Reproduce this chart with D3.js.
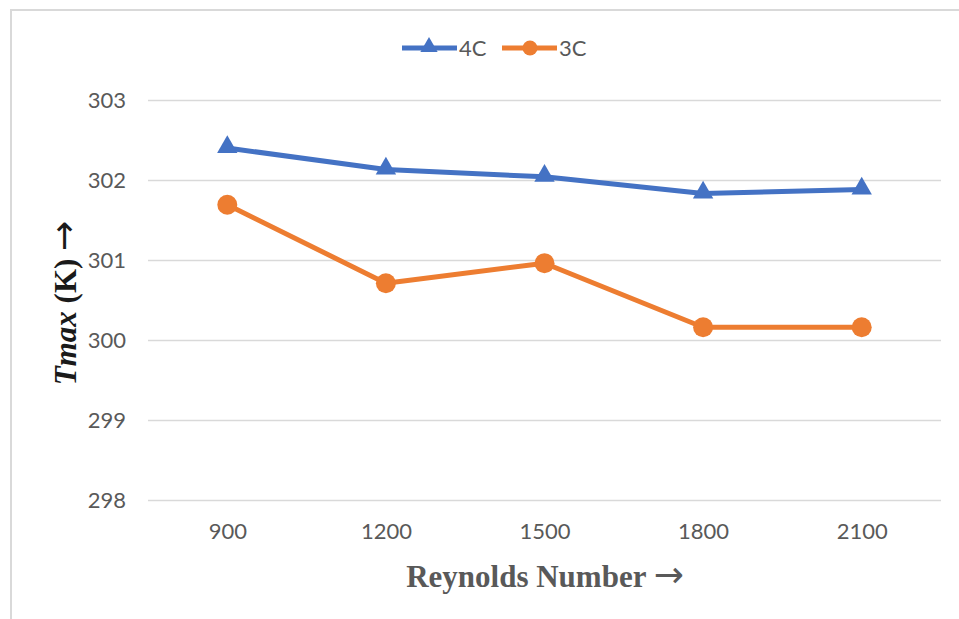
<!DOCTYPE html>
<html>
<head>
<meta charset="utf-8">
<script src="https://cdn.jsdelivr.net/npm/d3@7"></script>
<style>
  html, body { margin: 0; padding: 0; background: #fff; }
  svg { display: block; }
</style>
</head>
<body>
<svg id="chart" width="959" height="619"></svg>
<script>
// Reynolds number categories and maximum temperature (K) per configuration
const reynolds = ["900", "1200", "1500", "1800", "2100"];
const tmax4C = [302.40, 302.13, 302.04, 301.83, 301.88];
const tmax3C = [301.69, 300.71, 300.96, 300.16, 300.16];
const yTicks = [298, 299, 300, 301, 302, 303];
const seriesNames = ["4C", "3C"];

const W = 959, H = 619;
const plot = { left: 148, right: 941, top: 100, bottom: 500 };
const blue = "#4472C4", orange = "#ED7D31";
const tickFont = "Lato, 'Open Sans', sans-serif";
const serif = "'Liberation Serif', 'Times New Roman', serif";
const arrowFont = "'DejaVu Sans', sans-serif";

const svg = d3.select("#chart");

// chart area frame (top and left edges)
svg.append("path")
  .attr("d", `M11,${H} L11,10 L${W},10`)
  .attr("fill", "none")
  .attr("stroke", "#d9d9d9")
  .attr("stroke-width", 2);

const x = d3.scalePoint().domain(reynolds).range([plot.left, plot.right]).padding(0.5);
const y = d3.scaleLinear().domain([298, 303]).range([plot.bottom, plot.top]);

// y axis with horizontal gridlines
const yAxis = svg.append("g")
  .attr("transform", `translate(${plot.left},0)`)
  .call(d3.axisLeft(y).tickValues(yTicks).tickFormat(d3.format("d"))
    .tickSizeInner(-(plot.right - plot.left)).tickSizeOuter(0).tickPadding(22));
yAxis.select(".domain").remove();
yAxis.selectAll(".tick line").attr("stroke", "#d9d9d9").attr("stroke-width", 1.6);
yAxis.selectAll(".tick text")
  .attr("fill", "#595959").style("font-family", tickFont).style("font-size", "22px");

// x axis labels
const xAxis = svg.append("g")
  .attr("transform", `translate(0,${plot.bottom})`)
  .call(d3.axisBottom(x).tickSize(0).tickPadding(23));
xAxis.select(".domain").remove();
xAxis.selectAll(".tick text")
  .attr("fill", "#595959").style("font-family", tickFont).style("font-size", "22px");

// axis titles
const xTitle = svg.append("text")
  .attr("x", 545).attr("y", 587)
  .attr("text-anchor", "middle")
  .attr("fill", "#595959")
  .style("font-family", serif).style("font-weight", "bold").style("font-size", "31px");
xTitle.append("tspan").text("Reynolds Number ");
xTitle.append("tspan").style("font-family", arrowFont).style("font-weight", "normal")
  .style("font-size", "36px").text("→");

const yTitle = svg.append("text")
  .attr("transform", "translate(76,303) rotate(-90)")
  .attr("text-anchor", "middle")
  .attr("fill", "#1a1a1a")
  .style("font-family", serif).style("font-weight", "bold").style("font-size", "31px");
yTitle.append("tspan").style("font-style", "italic").text("Tmax");
yTitle.append("tspan").text(" (K) ");
yTitle.append("tspan").style("font-family", arrowFont).style("font-weight", "normal")
  .style("font-size", "36px").text("→");

// series lines and markers
const line = d3.line().x((d, i) => x(reynolds[i])).y(d => y(d));
const triangle = d3.symbol().type(d3.symbolTriangle);

function drawSeries(values, color, marker) {
  svg.append("path")
    .datum(values)
    .attr("d", line)
    .attr("fill", "none")
    .attr("stroke", color)
    .attr("stroke-width", 5)
    .attr("stroke-linejoin", "round");
  const g = svg.append("g");
  values.forEach((v, i) => {
    if (marker === "triangle") {
      g.append("path")
        .attr("d", triangle.size(180)())
        .attr("transform", `translate(${x(reynolds[i])},${y(v) - 1})`)
        .attr("fill", color);
    } else {
      g.append("circle")
        .attr("cx", x(reynolds[i])).attr("cy", y(v)).attr("r", 10)
        .attr("fill", color);
    }
  });
}
drawSeries(tmax4C, blue, "triangle");
drawSeries(tmax3C, orange, "circle");

// legend
const legend = svg.append("g").attr("transform", "translate(0,48)");
const legendItems = [
  { name: seriesNames[0], color: blue, marker: "triangle", x0: 402 },
  { name: seriesNames[1], color: orange, marker: "circle", x0: 502 }
];
legendItems.forEach(item => {
  legend.append("line")
    .attr("x1", item.x0).attr("x2", item.x0 + 55)
    .attr("stroke", item.color).attr("stroke-width", 5);
  if (item.marker === "triangle") {
    legend.append("path")
      .attr("d", triangle.size(130)())
      .attr("transform", `translate(${item.x0 + 27},-1)`)
      .attr("fill", item.color);
  } else {
    legend.append("circle")
      .attr("cx", item.x0 + 28).attr("r", 7.5).attr("fill", item.color);
  }
  legend.append("text")
    .attr("x", item.x0 + 57).attr("y", 8)
    .attr("fill", "#595959")
    .style("font-family", tickFont).style("font-size", "22px")
    .text(item.name);
});
</script>
</body>
</html>
